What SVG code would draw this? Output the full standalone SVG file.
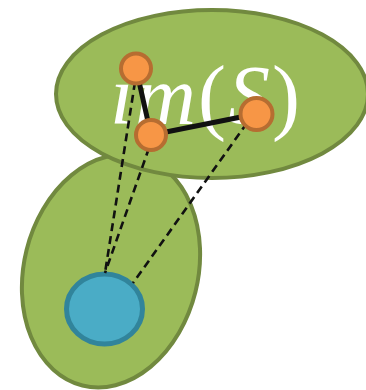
<svg xmlns="http://www.w3.org/2000/svg" width="366" height="390" viewBox="0 0 366 390">
<style>
.region{fill:#9bbb59;stroke:#71893f;stroke-width:4}
.pt{fill:#f79646;stroke:#b66d31;stroke-width:4}
.dash{stroke:#111;stroke-width:2.6;stroke-dasharray:8 5;fill:none}
.edge{stroke:#111;stroke-width:5;fill:none}
.lbl{font-family:"Liberation Serif",serif;font-size:84px;fill:#fff;letter-spacing:2px}
</style>
<g id="domain"><ellipse class="region" cx="111" cy="271" rx="87" ry="118" transform="rotate(14 111 271)"/></g>
<g id="image"><ellipse class="region" cx="212" cy="94" rx="156" ry="84"/>
<text class="lbl" x="110" y="124"><tspan font-style="italic">im</tspan>(<tspan font-style="italic">S</tspan>)</text></g>
<g id="source"><ellipse cx="104.5" cy="309" rx="38" ry="35" fill="#4aacc6" stroke="#31849b" stroke-width="5"/></g>
<g id="connectors">
<line class="dash" x1="135" y1="82" x2="105" y2="273"/>
<line class="dash" x1="149" y1="148" x2="105" y2="273"/>
<line class="dash" x1="247" y1="123" x2="133" y2="283"/>
<line class="edge" x1="136" y1="68" x2="151" y2="135"/>
<line class="edge" x1="151" y1="135" x2="256" y2="114"/>
</g>
<g id="p1"><circle class="pt" cx="136" cy="68.5" r="15"/></g>
<g id="p2"><circle class="pt" cx="151" cy="135" r="15"/></g>
<g id="p3"><circle class="pt" cx="256.5" cy="114" r="16"/></g>
</svg>
